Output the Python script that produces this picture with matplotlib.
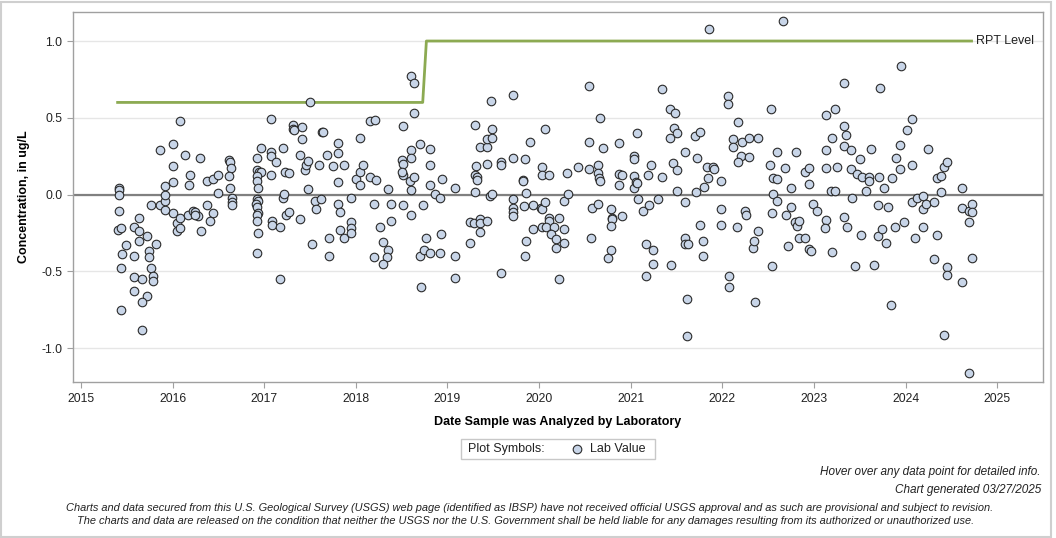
import numpy as np
import matplotlib
matplotlib.use("Agg")
import matplotlib.pyplot as plt
from matplotlib.patches import Rectangle
from matplotlib.lines import Line2D

plt.rcParams['font.family'] = ['Liberation Sans', 'DejaVu Sans']

# lab values: (decimal year, concentration ug/L)
lab_2015_2016 = [
    (2015.41, 0.04), (2015.41, 0.03), (2015.41, 0.00), (2015.41, -0.11), (2015.40, -0.23),
    (2015.44, -0.22), (2015.44, -0.48), (2015.45, -0.39), (2015.44, -0.75), (2015.49, -0.33),
    (2015.63, -0.155), (2015.58, -0.21), (2015.63, -0.24), (2015.63, -0.30), (2015.58, -0.40),
    (2015.58, -0.54), (2015.67, -0.55), (2015.58, -0.63), (2015.72, -0.66), (2015.67, -0.70),
    (2015.67, -0.88), (2015.72, -0.27), (2015.74, -0.37), (2015.74, -0.41), (2015.76, -0.48),
    (2015.79, -0.53), (2015.79, -0.56), (2015.82, -0.32), (2015.76, -0.07), (2015.86, 0.29),
    (2015.86, -0.07), (2015.92, -0.10), (2015.92, -0.04), (2015.92, 0.00), (2015.92, 0.055),
    (2016.00, 0.33), (2016.00, 0.185), (2016.00, 0.08), (2016.00, -0.12), (2016.08, 0.48),
    (2016.05, -0.185), (2016.08, -0.15), (2016.05, -0.235), (2016.08, -0.22), (2016.13, 0.26),
    (2016.19, 0.125), (2016.18, 0.06), (2016.17, -0.13), (2016.22, -0.105), (2016.25, -0.115),
    (2016.28, -0.14), (2016.24, -0.13), (2016.30, 0.235), (2016.31, -0.24), (2016.38, 0.085),
    (2016.44, 0.10), (2016.50, 0.13), (2016.38, -0.07), (2016.44, -0.12), (2016.41, -0.17),
    (2016.50, 0.01), (2016.62, 0.225), (2016.63, 0.21), (2016.64, 0.17), (2016.62, 0.12),
    (2016.63, 0.045), (2016.65, -0.02), (2016.65, -0.05), (2016.65, -0.07),
]
lab_2017_2018 = [
    (2016.92, 0.24), (2016.97, 0.30), (2016.92, 0.16), (2016.94, 0.15), (2016.97, 0.145),
    (2016.92, 0.12), (2016.92, 0.085), (2016.93, 0.04), (2016.92, -0.03), (2016.93, -0.04),
    (2016.91, -0.06), (2016.92, -0.08), (2016.93, -0.12), (2016.92, -0.13), (2016.92, -0.17),
    (2016.93, -0.25), (2016.92, -0.38), (2017.07, 0.49), (2017.07, 0.28), (2017.07, 0.25),
    (2017.13, 0.21), (2017.07, 0.13), (2017.09, -0.17), (2017.09, -0.20), (2017.17, -0.21),
    (2017.17, -0.55), (2017.20, 0.305), (2017.20, -0.02), (2017.22, 0.005), (2017.23, 0.15),
    (2017.27, 0.14), (2017.24, -0.13), (2017.27, -0.115), (2017.31, 0.455), (2017.31, 0.43),
    (2017.32, 0.42), (2017.41, 0.44), (2017.41, 0.36), (2017.39, 0.255), (2017.45, 0.16),
    (2017.46, 0.19), (2017.48, 0.22), (2017.48, 0.035), (2017.39, -0.16), (2017.52, -0.325),
    (2017.50, 0.60), (2017.55, -0.045), (2017.57, -0.095), (2017.62, -0.03), (2017.60, 0.195),
    (2017.63, 0.41), (2017.64, 0.405), (2017.68, 0.26), (2017.71, -0.285), (2017.71, -0.40),
    (2017.75, 0.185), (2017.80, 0.335), (2017.80, 0.27), (2017.80, 0.08), (2017.80, -0.06),
    (2017.83, -0.115), (2017.83, -0.23), (2017.87, -0.285), (2017.87, 0.19), (2017.95, -0.025),
    (2017.95, -0.18), (2017.95, -0.22), (2017.95, -0.25), (2018.04, 0.37), (2018.00, 0.10),
    (2018.04, 0.145), (2018.04, 0.06), (2018.08, 0.19), (2018.15, 0.48), (2018.21, 0.485),
    (2018.15, 0.115), (2018.22, 0.095), (2018.20, -0.06), (2018.20, -0.41), (2018.26, -0.21),
    (2018.30, -0.31), (2018.35, -0.36), (2018.34, -0.41), (2018.30, -0.45), (2018.35, 0.035),
    (2018.38, -0.06), (2018.38, -0.17), (2018.52, 0.445), (2018.50, 0.225), (2018.52, 0.20),
    (2018.52, 0.13), (2018.50, 0.15), (2018.52, -0.07), (2018.60, 0.77), (2018.63, 0.725),
    (2018.64, 0.53), (2018.60, 0.29), (2018.60, 0.24), (2018.59, 0.085), (2018.60, 0.03),
    (2018.63, 0.115), (2018.60, -0.13), (2018.70, 0.33), (2018.73, -0.07), (2018.71, -0.60),
    (2018.70, -0.40), (2018.74, -0.36),
]
lab_2019_2020 = [
    (2018.77, -0.285), (2018.81, 0.295), (2018.81, 0.195), (2018.81, 0.06), (2018.86, 0.003),
    (2018.92, -0.025), (2018.81, -0.38), (2018.94, 0.10), (2018.93, -0.26), (2018.92, -0.38),
    (2019.08, 0.04), (2019.08, -0.40), (2019.08, -0.545), (2019.30, 0.455), (2019.31, 0.185),
    (2019.30, 0.13), (2019.32, 0.115), (2019.32, 0.095), (2019.30, 0.015), (2019.25, -0.18),
    (2019.29, -0.185), (2019.36, -0.16), (2019.35, -0.185), (2019.43, -0.175), (2019.35, -0.245),
    (2019.25, -0.315), (2019.35, 0.31), (2019.43, 0.31), (2019.43, 0.36), (2019.49, 0.425),
    (2019.49, 0.37), (2019.43, 0.20), (2019.47, 0.61), (2019.46, -0.01), (2019.49, 0.003),
    (2019.58, 0.215), (2019.58, 0.19), (2019.58, -0.51), (2019.72, 0.65), (2019.72, 0.235),
    (2019.71, -0.03), (2019.71, -0.09), (2019.71, -0.115), (2019.71, -0.14), (2019.83, -0.075),
    (2019.82, 0.095), (2019.82, 0.085), (2019.85, 0.23), (2019.86, 0.008), (2019.90, 0.34),
    (2019.93, -0.07), (2019.93, -0.225), (2019.86, -0.30), (2019.85, -0.40), (2020.06, 0.425),
    (2020.03, 0.18), (2020.03, 0.125), (2020.11, 0.125), (2020.02, -0.085), (2020.03, -0.095),
    (2020.06, -0.05), (2020.11, -0.15), (2020.11, -0.17), (2020.03, -0.21), (2020.08, -0.21),
    (2020.16, -0.21), (2020.22, -0.15), (2020.13, -0.255), (2020.18, -0.29), (2020.18, -0.35),
    (2020.27, -0.225), (2020.27, -0.315), (2020.22, -0.55), (2020.27, -0.045), (2020.32, 0.003),
    (2020.31, 0.14), (2020.42, 0.18), (2020.54, 0.705), (2020.54, 0.345), (2020.55, 0.165),
    (2020.57, -0.28), (2020.58, -0.085),
]
lab_2021_2022 = [
    (2020.64, 0.195), (2020.64, 0.14), (2020.65, 0.11), (2020.66, 0.085), (2020.64, -0.06),
    (2020.67, 0.50), (2020.70, 0.30), (2020.75, -0.415), (2020.79, -0.36), (2020.79, -0.095),
    (2020.80, -0.15), (2020.80, -0.16), (2020.79, -0.205), (2020.90, -0.14), (2020.87, 0.335),
    (2020.87, 0.135), (2020.90, 0.125), (2020.87, 0.06), (2021.04, 0.25), (2021.04, 0.23),
    (2021.04, 0.12), (2021.04, 0.04), (2021.06, 0.08), (2021.07, 0.075), (2021.07, 0.40),
    (2021.08, -0.03), (2021.13, -0.11), (2021.20, -0.07), (2021.17, -0.325), (2021.24, -0.36),
    (2021.24, -0.45), (2021.17, -0.53), (2021.19, 0.125), (2021.22, 0.195), (2021.30, -0.03),
    (2021.34, 0.115), (2021.34, 0.685), (2021.43, 0.555), (2021.48, 0.53), (2021.47, 0.435),
    (2021.50, 0.40), (2021.43, 0.37), (2021.46, 0.205), (2021.51, 0.16), (2021.50, 0.02),
    (2021.44, -0.46), (2021.59, 0.28), (2021.59, -0.05), (2021.59, -0.28), (2021.59, -0.32),
    (2021.62, -0.32), (2021.61, -0.68), (2021.61, -0.92), (2021.70, 0.38), (2021.76, 0.41),
    (2021.72, 0.24), (2021.71, 0.016), (2021.80, 0.05), (2021.84, 0.11), (2021.83, 0.18),
    (2021.90, 0.18), (2021.91, 0.165), (2021.76, -0.20), (2021.79, -0.30), (2021.79, -0.40),
    (2021.86, 1.08), (2021.99, 0.09), (2021.99, -0.095), (2021.99, -0.20), (2022.06, 0.64),
    (2022.06, 0.59), (2022.07, -0.53), (2022.07, -0.60), (2022.12, 0.365), (2022.12, 0.31),
    (2022.17, 0.47), (2022.21, 0.34), (2022.20, 0.25), (2022.17, 0.21), (2022.16, -0.21),
    (2022.25, -0.11), (2022.26, -0.13), (2022.29, 0.37), (2022.29, 0.245), (2022.39, 0.37),
    (2022.33, -0.345), (2022.35, -0.30), (2022.39, -0.24), (2022.36, -0.70),
]
lab_2023_2024 = [
    (2022.53, 0.56), (2022.52, 0.19), (2022.55, 0.11), (2022.60, 0.10), (2022.60, 0.275),
    (2022.55, 0.003), (2022.60, -0.045), (2022.54, -0.12), (2022.54, -0.465), (2022.66, 1.13),
    (2022.68, 0.17), (2022.69, -0.13), (2022.72, -0.335), (2022.75, -0.08), (2022.75, 0.04),
    (2022.80, 0.28), (2022.79, -0.18), (2022.81, -0.205), (2022.84, -0.17), (2022.84, -0.285),
    (2022.90, -0.28), (2022.90, 0.145), (2022.95, 0.175), (2022.95, 0.07), (2022.95, -0.355),
    (2022.97, -0.365), (2022.99, -0.06), (2023.03, -0.11), (2023.13, 0.515), (2023.13, 0.29),
    (2023.13, 0.17), (2023.13, -0.165), (2023.12, -0.22), (2023.20, -0.375), (2023.19, 0.025),
    (2023.23, 0.025), (2023.23, 0.555), (2023.20, 0.37), (2023.25, 0.18), (2023.33, 0.725),
    (2023.33, 0.445), (2023.35, 0.385), (2023.33, 0.315), (2023.33, -0.145), (2023.36, -0.21),
    (2023.40, 0.29), (2023.40, 0.165), (2023.42, -0.025), (2023.45, -0.465), (2023.47, 0.135),
    (2023.52, 0.115), (2023.50, 0.23), (2023.51, -0.265), (2023.57, 0.025), (2023.60, 0.115),
    (2023.60, 0.09), (2023.62, 0.295), (2023.66, -0.46), (2023.72, 0.695), (2023.71, 0.115),
    (2023.70, -0.07), (2023.70, -0.27), (2023.74, -0.225), (2023.76, 0.04), (2023.79, -0.315),
    (2023.81, -0.08), (2023.84, -0.72), (2023.85, 0.105), (2023.88, -0.21), (2023.90, 0.235),
    (2023.95, 0.835), (2023.94, 0.32), (2023.94, 0.165), (2023.98, -0.18),
    (2024.02, 0.42), (2024.07, 0.49), (2024.07, 0.19), (2024.07, -0.05), (2024.10, -0.28),
    (2024.13, -0.02), (2024.19, -0.01), (2024.19, -0.095), (2024.22, -0.06), (2024.19, -0.21),
    (2024.25, 0.295), (2024.31, -0.05), (2024.31, -0.42), (2024.34, 0.105), (2024.39, 0.12),
    (2024.39, 0.016), (2024.34, -0.265), (2024.42, 0.18), (2024.45, 0.215), (2024.45, -0.475),
    (2024.45, -0.525), (2024.42, -0.915), (2024.62, 0.04), (2024.62, -0.09), (2024.62, -0.57),
    (2024.69, -0.11), (2024.72, -0.06), (2024.72, -0.115), (2024.69, -0.18), (2024.72, -0.415),
    (2024.69, -1.165),
]

# reporting level step line
rpt_dates = [2015.40, 2018.73, 2018.77, 2024.72]
rpt_levels = [0.6, 0.6, 1.0, 1.0]

year_ticks = list(range(2015, 2026))
y_ticks = [-1.0, -0.5, 0.0, 0.5, 1.0]

lab = np.array(lab_2015_2016 + lab_2017_2018 + lab_2019_2020 + lab_2021_2022 + lab_2023_2024)

W, H = 1056, 538
fig = plt.figure(figsize=(W / 100, H / 100), dpi=100)
ax = fig.add_axes([73 / W, 1 - 382 / H, (1043 - 73) / W, (382 - 12) / H])

ax.set_xlim(2014.913, 2025.50)
ax.set_ylim(-1.221, 1.189)
ax.set_xticks(year_ticks)
ax.set_xticklabels([str(y) for y in year_ticks])
ax.set_yticks(y_ticks)
ax.set_yticklabels([f"{v:.1f}" for v in y_ticks])

for s in ax.spines.values():
    s.set_color('#a0a0a0')
    s.set_linewidth(1.0)
ax.tick_params(axis='both', colors='#a0a0a0', labelcolor='#222222', labelsize=8.7, length=4)
ax.tick_params(axis='x', pad=4)

ax.yaxis.grid(True, color='#e6e6e6', lw=1.0, zorder=0)
ax.set_axisbelow(True)
ax.axhline(0, color='#808080', lw=1.6, zorder=1)

ax.plot(rpt_dates, rpt_levels, color='#8caa52', lw=2.0, zorder=2)
ax.text(rpt_dates[-1] + 0.05, rpt_levels[-1], "RPT Level", fontsize=9, color='#222222',
        va='center', ha='left')

sc = ax.scatter(lab[:, 0], lab[:, 1], s=38, facecolor='#c8d5e8', edgecolor='#2a2a2a',
                linewidth=0.8, zorder=3)

ax.set_ylabel("Concentration, in ug/L", fontsize=9, fontweight='bold', labelpad=8)
ax.set_xlabel("Date Sample was Analyzed by Laboratory", fontsize=9, fontweight='bold', labelpad=8)

# legend box
fig.patches.append(Rectangle((461 / W, 1 - 459 / H), 194 / W, 20 / H, transform=fig.transFigure,
                             facecolor='white', edgecolor='#c8c8c8', lw=1.0))
fig.text(468 / W, 1 - 449 / H, "Plot Symbols:", fontsize=9, va='center', ha='left', color='#222222')
fig.lines.append(Line2D([577 / W], [1 - 449 / H], transform=fig.transFigure, marker='o', ms=6.2,
                        mfc='#c8d5e8', mec='#2a2a2a', mew=0.8, ls='none'))
fig.text(590 / W, 1 - 449 / H, "Lab Value", fontsize=9, va='center', ha='left', color='#222222')

fig.text(1041 / W, 1 - 472 / H, "Hover over any data point for detailed info.", fontsize=8.5,
         style='italic', ha='right', va='center', color='#222222')
fig.text(1041 / W, 1 - 490 / H, "Chart generated 03/27/2025", fontsize=8.5,
         style='italic', ha='right', va='center', color='#222222')
fig.text(530 / W, 1 - 508 / H,
         "Charts and data secured from this U.S. Geological Survey (USGS) web page (identified as IBSP) "
         "have not received official USGS approval and as such are provisional and subject to revision.",
         fontsize=7.9, style='italic', ha='center', va='center', color='#222222')
fig.text(526 / W, 1 - 521 / H,
         "The charts and data are released on the condition that neither the USGS nor the U.S. Government "
         "shall be held liable for any damages resulting from its authorized or unauthorized use.",
         fontsize=7.9, style='italic', ha='center', va='center', color='#222222')

# outer frame
fig.patches.append(Rectangle((1 / W, 1 / H), 1050 / W, 535 / H, transform=fig.transFigure,
                             facecolor='none', edgecolor='#cfcfcf', lw=1.5))

fig.savefig("out.png", dpi=100)
